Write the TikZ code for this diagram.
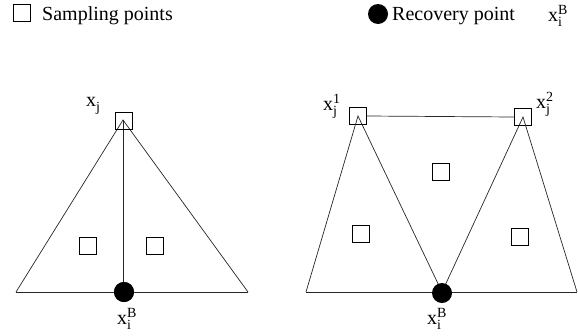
\documentclass[tikz,border=0pt]{standalone}
\usepackage{fontspec}
\setmainfont{Liberation Serif}
\newcommand\xl[2]{x\rlap{\raisebox{7pt}{\fontsize{14}{14}\selectfont #2}}\raisebox{-5pt}{\fontsize{14}{14}\selectfont #1}}
\tikzset{
  samp/.style={draw=black, line width=0.7pt, fill=white, minimum size=17pt, inner sep=0pt},
  recov/.style={circle, fill=black, minimum size=20pt, inner sep=0pt},
  edge/.style={line width=0.7pt, draw=black!85},
  txt/.style={inner sep=0pt, anchor=base west, font=\fontsize{20}{24}\selectfont},
}
\begin{document}
\begin{tikzpicture}[x=1pt,y=-1pt]
\useasboundingbox (0,0) rectangle (578,335);
% legend
\node[samp] (ls) at (22,13) {};
\node[txt] (lst) at (42,20) {Sampling points};
\node[recov] (lc) at (378,14) {};
\node[txt] (lct) at (392,20) {Recovery point};
\node[txt] (lx) at (548,21) {\xl{i}{B}};
% left triangle
\coordinate (L1) at (16,292);
\coordinate (L2) at (248,292);
\node[recov] (lb) at (124,292) {};
\draw[edge] (L1) -- (L2);
\draw[edge] (L1) -- (123,120) coordinate (la) -- (L2);
\draw[edge] (la) -- (la |- lb.center);
\node[recov] at (124,292) {};
\node[samp, fill=none] (lt) at (124,121) {};
\node[samp] (ls1) at (88,246) {};
\node[samp] (ls2) at (155,246) {};
\node[txt] (ltx) at (86,106) {\xl{j}{}};
\node[txt] (lbx) at (117,324) {\xl{i}{B}};
% right
\coordinate (R1) at (306,292);
\coordinate (R2) at (577,292);
\node[samp, fill=none] (rt1) at (358,116) {};
\node[samp, fill=none] (rt2) at (523,117) {};
\draw[edge] (R1) -- (R2);
\draw[edge] (rt1.east) -- (rt2.west);
\draw[edge] (R1) -- (rt1.center) -- (442,292) -- (rt2.center) -- (R2);
\node[recov] (rb) at (442,293) {};
\node[samp] (rs1) at (441,172) {};
\node[samp] (rs2) at (361,234) {};
\node[samp] (rs3) at (520,237) {};
\node[txt] (rx1) at (323,110) {\xl{j}{1}};
\node[txt] (rx2) at (536,108) {\xl{j}{2}};
\node[txt] (rbx) at (427,324) {\xl{i}{B}};
\end{tikzpicture}
\end{document}
